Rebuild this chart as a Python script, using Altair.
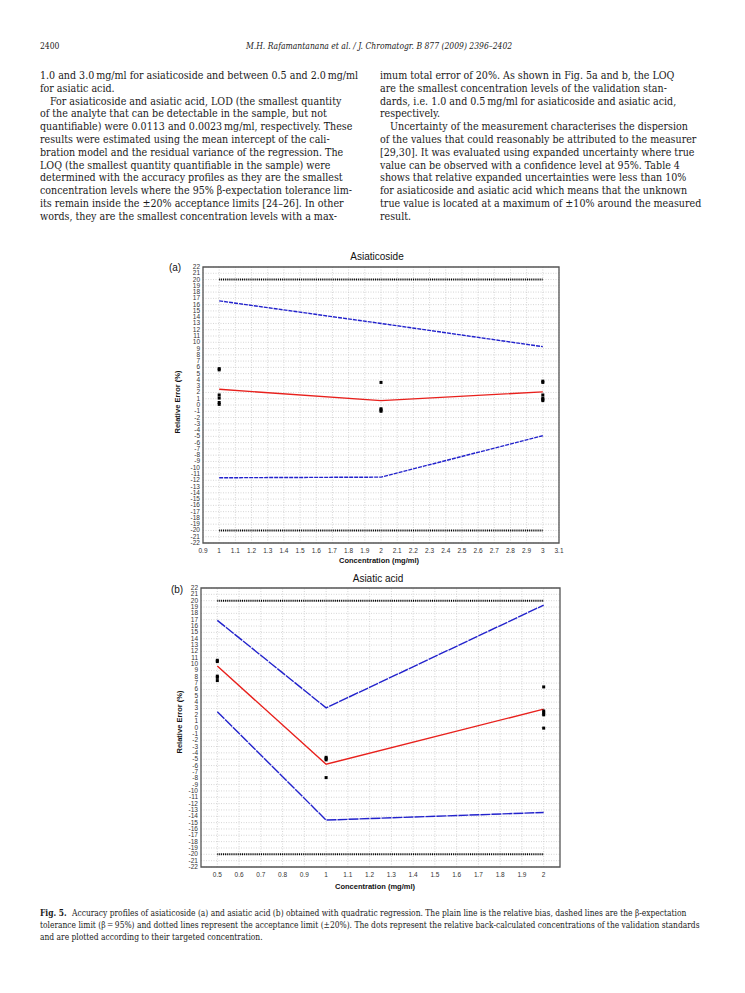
import altair as alt
import pandas as pd

# ---------------- data: panel (a) Asiaticoside ----------------
a_conc = [1.0, 2.0, 3.0]
a_bias = [2.5, 0.7, 2.1]
a_upper = [16.6, 13.0, 9.3]
a_lower = [-11.6, -11.5, -4.9]
a_accept_x = [1.0, 3.0]
a_dots_x = [1, 1, 1, 1, 1, 1, 2, 2, 2, 2, 3, 3, 3, 3, 3, 3]
a_dots_y = [5.8, 5.6, 1.6, 1.1, 0.4, 0.1, 3.6, -0.6, -0.8, -1.0, 3.8, 3.6, 1.6, 1.1, 0.9, 0.7]
a_xticks = [0.9, 1.0, 1.1, 1.2, 1.3, 1.4, 1.5, 1.6, 1.7, 1.8, 1.9, 2.0, 2.1, 2.2,
            2.3, 2.4, 2.5, 2.6, 2.7, 2.8, 2.9, 3.0, 3.1]
a_xlabels = ["0.9", "1", "1.1", "1.2", "1.3", "1.4", "1.5", "1.6", "1.7", "1.8", "1.9", "2",
             "2.1", "2.2", "2.3", "2.4", "2.5", "2.6", "2.7", "2.8", "2.9", "3", "3.1"]

# ---------------- data: panel (b) Asiatic acid ----------------
b_conc = [0.5, 1.0, 2.0]
b_bias = [9.7, -5.8, 2.9]
b_upper = [16.9, 3.1, 19.3]
b_lower = [2.5, -14.6, -13.4]
b_accept_x = [0.5, 2.0]
b_dots_x = [0.5, 0.5, 0.5, 0.5, 0.5, 1, 1, 1, 1, 2, 2, 2, 2, 2]
b_dots_y = [10.6, 10.4, 8.1, 7.9, 7.4, -4.7, -4.9, -5.1, -7.9, 6.4, 2.6, 2.3, 2.0, -0.1]
b_xticks = [0.5, 0.6, 0.7, 0.8, 0.9, 1.0, 1.1, 1.2, 1.3, 1.4, 1.5, 1.6, 1.7, 1.8, 1.9, 2.0]
b_xlabels = ["0.5", "0.6", "0.7", "0.8", "0.9", "1", "1.1", "1.2", "1.3", "1.4", "1.5",
             "1.6", "1.7", "1.8", "1.9", "2"]

y_ticks = list(range(-22, 23))
y_limits = [-22, 22]

# ---------------- page text ----------------
header_left = "2400"
header_center = "M.H. Rafamantanana et al. / J. Chromatogr. B 877 (2009) 2396\u20132402"
# (text, indented?)
left_col = [
    ("1.0 and 3.0\u2009mg/ml for asiaticoside and between 0.5 and 2.0\u2009mg/ml", 0),
    ("for asiatic acid.", 0),
    ("For asiaticoside and asiatic acid, LOD (the smallest quantity", 1),
    ("of the analyte that can be detectable in the sample, but not", 0),
    ("quantifiable) were 0.0113 and 0.0023\u2009mg/ml, respectively. These", 0),
    ("results were estimated using the mean intercept of the cali-", 0),
    ("bration model and the residual variance of the regression. The", 0),
    ("LOQ (the smallest quantity quantifiable in the sample) were", 0),
    ("determined with the accuracy profiles as they are the smallest", 0),
    ("concentration levels where the 95% \u03b2-expectation tolerance lim-", 0),
    ("its remain inside the \u00b120% acceptance limits [24\u201326]. In other", 0),
    ("words, they are the smallest concentration levels with a max-", 0),
]
right_col = [
    ("imum total error of 20%. As shown in Fig. 5a and b, the LOQ", 0),
    ("are the smallest concentration levels of the validation stan-", 0),
    ("dards, i.e. 1.0 and 0.5\u2009mg/ml for asiaticoside and asiatic acid,", 0),
    ("respectively.", 0),
    ("Uncertainty of the measurement characterises the dispersion", 1),
    ("of the values that could reasonably be attributed to the measurer", 0),
    ("[29,30]. It was evaluated using expanded uncertainty where true", 0),
    ("value can be observed with a confidence level at 95%. Table 4", 0),
    ("shows that relative expanded uncertainties were less than 10%", 0),
    ("for asiaticoside and asiatic acid which means that the unknown", 0),
    ("true value is located at a maximum of \u00b110% around the measured", 0),
    ("result.", 0),
]
caption_lines = [
    "Accuracy profiles of asiaticoside (a) and asiatic acid (b) obtained with quadratic regression. The plain line is the relative bias, dashed lines are the \u03b2-expectation",
    "tolerance limit (\u03b2\u2009=\u200995%) and dotted lines represent the acceptance limit (\u00b120%). The dots represent the relative back-calculated concentrations of the validation standards",
    "and are plotted according to their targeted concentration.",
]

O = 8  # page margin offset
W, H = 745 - 2 * O, 993 - 2 * O

BLUE = "#2222cc"
RED = "#e8201c"
SANS = "Liberation Sans"
SERIF = "DejaVu Serif Condensed, Liberation Serif"


def panel(conc, bias, upper, lower, acc_x, dx, dy, xticks, xlabels, xdom, xrng, yrng, dash):
    X = alt.Scale(domain=xdom, range=xrng, nice=False, zero=False)
    Y = alt.Scale(domain=y_limits, range=yrng, nice=False, zero=False)

    def xe(f):
        return alt.X(f, type="quantitative", scale=X, axis=None)

    def ye(f):
        return alt.Y(f, type="quantitative", scale=Y, axis=None)

    layers = []
    vg = pd.DataFrame({"x": xticks, "y0": y_limits[0], "y1": y_limits[1]})
    layers.append(alt.Chart(vg).mark_rule(color="#c4c4c4", strokeWidth=0.7, strokeDash=[1, 1.5])
                  .encode(x=xe("x"), y=ye("y0"), y2=alt.Y2("y1")))
    hg = pd.DataFrame({"y": y_ticks, "x0": xdom[0], "x1": xdom[1]})
    layers.append(alt.Chart(hg).mark_rule(color="#c4c4c4", strokeWidth=0.7, strokeDash=[1, 1.5])
                  .encode(y=ye("y"), x=xe("x0"), x2=alt.X2("x1")))
    fr = pd.DataFrame({"x0": [xdom[0]], "x1": [xdom[1]], "y0": [y_limits[0]], "y1": [y_limits[1]]})
    layers.append(alt.Chart(fr).mark_rect(fillOpacity=0, stroke="#555555", strokeWidth=1.3)
                  .encode(x=xe("x0"), x2=alt.X2("x1"), y=ye("y0"), y2=alt.Y2("y1")))
    # y tick labels
    yl = pd.DataFrame({"y": y_ticks, "x": xdom[0], "t": [str(v) for v in y_ticks]})
    layers.append(alt.Chart(yl).mark_text(align="right", baseline="middle", dx=-3, font=SANS,
                                          fontSize=6.5, color="#333333")
                  .encode(x=xe("x"), y=ye("y"), text="t:N"))
    xl = pd.DataFrame({"x": xticks, "y": y_limits[0], "t": xlabels})
    layers.append(alt.Chart(xl).mark_text(align="center", baseline="top", dy=5, font=SANS,
                                          fontSize=6.5, color="#333333")
                  .encode(x=xe("x"), y=ye("y"), text="t:N"))
    # acceptance limits
    acc = pd.DataFrame({"x": acc_x * 2, "y": [20, 20, -20, -20], "g": ["hi", "hi", "lo", "lo"]})
    layers.append(alt.Chart(acc).mark_line(color="black", strokeWidth=2, strokeDash=[1, 0.9])
                  .encode(x=xe("x"), y=ye("y"), detail="g:N"))
    # tolerance limits
    tol = pd.DataFrame({"x": conc * 2, "y": upper + lower, "g": ["up"] * 3 + ["lo"] * 3})
    layers.append(alt.Chart(tol).mark_line(color=BLUE, strokeWidth=1.4, strokeDash=dash)
                  .encode(x=xe("x"), y=ye("y"), detail="g:N"))
    # bias
    bs = pd.DataFrame({"x": conc, "y": bias})
    layers.append(alt.Chart(bs).mark_line(color=RED, strokeWidth=1.4)
                  .encode(x=xe("x"), y=ye("y")))
    # dots
    dd = pd.DataFrame({"x": dx, "y": dy})
    layers.append(alt.Chart(dd).mark_square(color="black", size=9, opacity=1)
                  .encode(x=xe("x"), y=ye("y")))
    return layers


def texts(rows, **kw):
    df = pd.DataFrame(rows, columns=["t", "px", "py"])
    return alt.Chart(df).mark_text(**kw).encode(
        x=alt.X("px:Q", scale=None), y=alt.Y("py:Q", scale=None), text="t:N")


layers = []
layers += panel(a_conc, a_bias, a_upper, a_lower, a_accept_x, a_dots_x, a_dots_y,
                a_xticks, a_xlabels, [0.9, 3.1], [203 - O, 559 - O], [543 - O, 267 - O], [4, 1])
layers += panel(b_conc, b_bias, b_upper, b_lower, b_accept_x, b_dots_x, b_dots_y,
                b_xticks, b_xlabels, [0.425, 2.075], [201 - O, 560 - O], [867 - O, 588 - O], [10, 1])

# panel decorations
layers.append(texts([["Asiaticoside", 377 - O, 257 - O], ["Asiatic  acid", 378 - O, 579 - O]],
                    font=SANS, fontSize=10, align="center", baseline="middle", color="#111"))
layers.append(texts([["(a)", 175 - O, 268 - O], ["(b)", 177 - O, 590 - O]],
                    font=SANS, fontSize=10, align="center", baseline="middle", color="#111"))
layers.append(texts([["Concentration (mg/ml)", 379 - O, 561 - O],
                     ["Concentration (mg/ml)", 375 - O, 887 - O]],
                    font=SANS, fontSize=7.5, fontWeight="bold", align="center", baseline="middle",
                    color="#111"))
layers.append(texts([["Relative Error (%)", 178 - O, 402 - O],
                     ["Relative Error (%)", 180 - O, 722 - O]],
                    font=SANS, fontSize=7.5, fontWeight="bold", align="center", baseline="middle",
                    angle=270, color="#111"))

# page header and body text
layers.append(texts([[header_left, 40 - O, 46 - O]], font=SERIF, fontSize=8.5, align="left",
                    baseline="middle", color="#222"))
layers.append(texts([[header_center, 379 - O, 46 - O]], font=SERIF, fontSize=8.5, fontStyle="italic",
                    align="center", baseline="middle", color="#222"))
body_rows = [[t, 40 + 10 * ind - O, 76 + 12.8 * i - O] for i, (t, ind) in enumerate(left_col)]
body_rows += [[t, 380 + 10 * ind - O, 76 + 12.8 * i - O] for i, (t, ind) in enumerate(right_col)]
layers.append(texts(body_rows, font=SERIF, fontSize=10.6, align="left", baseline="middle",
                    color="#1a1a1a"))
layers.append(texts([["Fig. 5.", 40 - O, 913 - O]], font=SERIF, fontSize=8.4, fontWeight="bold",
                    align="left", baseline="middle", color="#1a1a1a"))
cap_rows = [[caption_lines[0], 72 - O, 913 - O]]
cap_rows += [[t, 40 - O, 913 + 12 * (i + 1) - O] for i, t in enumerate(caption_lines[1:])]
layers.append(texts(cap_rows, font=SERIF, fontSize=8.4, align="left", baseline="middle",
                    color="#1a1a1a"))

chart = alt.layer(*layers).resolve_scale(x="independent", y="independent").properties(
    width=W, height=H, autosize=alt.AutoSizeParams(type="none"), padding=0
).configure_view(stroke=None)

chart.save("out.html", embed_options={"renderer": "svg", "actions": False})
